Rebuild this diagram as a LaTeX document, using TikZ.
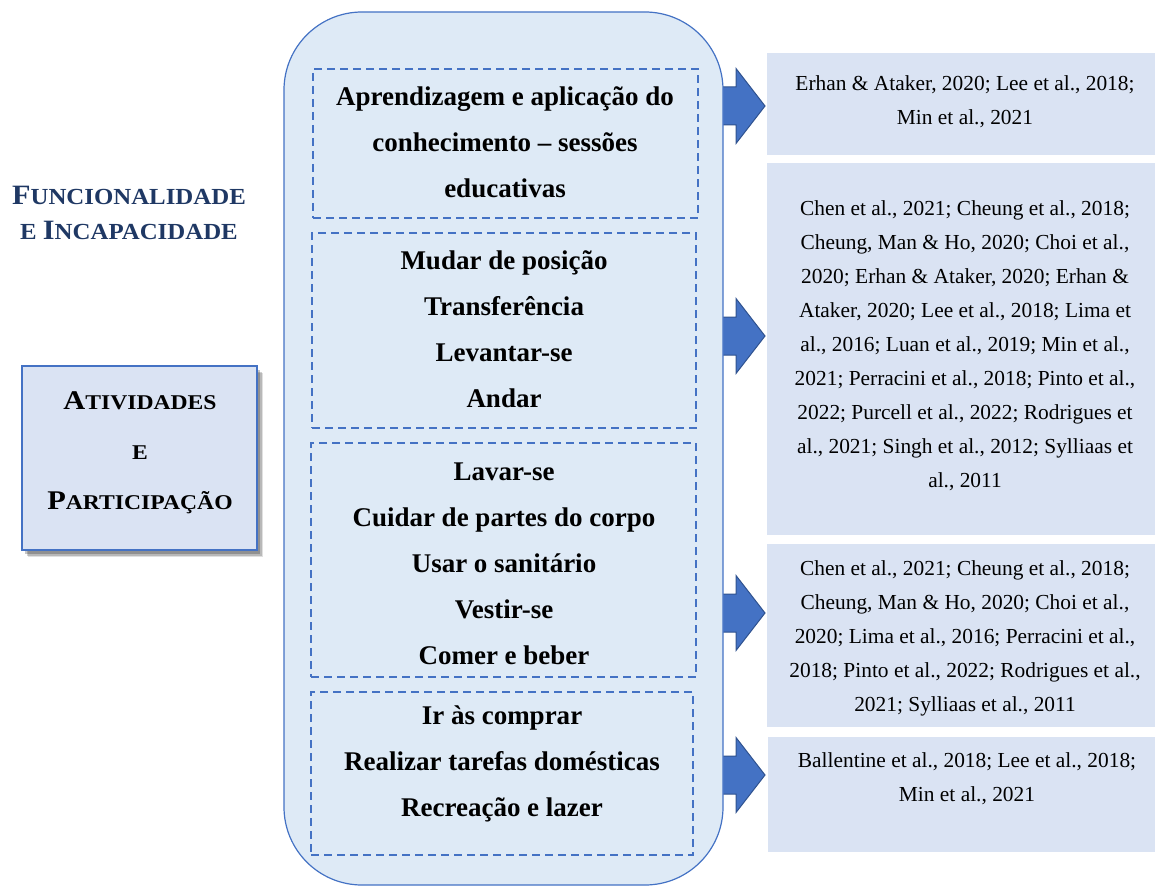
\documentclass[tikz,border=0pt]{standalone}
\usepackage{fontspec}
\setmainfont{Liberation Serif}
\usetikzlibrary{shadows}
\definecolor{panelfill}{HTML}{DEEAF6}
\definecolor{boxfill}{HTML}{DAE3F3}
\definecolor{accent}{HTML}{4472C4}
\definecolor{accentdark}{HTML}{2F528F}
\definecolor{navy}{HTML}{1F3864}
% fake small caps: large initial, smaller capitals
\newcommand\scT[2]{{\fontsize{28}{35}\selectfont #1}{\fontsize{23}{35}\selectfont #2}}
\newcommand\scL[2]{{\fontsize{27}{50}\selectfont #1}{\fontsize{21}{50}\selectfont #2}}
\begin{document}
\begin{tikzpicture}[x=1pt,y=-1pt,
  panel/.style={draw=accent, line width=1.2pt, fill=panelfill, rounded corners=78pt, inner sep=0pt},
  groupbox/.style={draw=accent, line width=1.6pt, dash pattern=on 8pt off 5pt, inner sep=0pt},
  citebox/.style={fill=boxfill, inner sep=0pt},
  sidebox/.style={fill=boxfill, draw=accent, line width=1.2pt, inner sep=0pt,
    drop shadow={shadow xshift=6pt, shadow yshift=-7pt, opacity=0.12, fill=black},
    drop shadow={shadow xshift=4.5pt, shadow yshift=-5.5pt, opacity=0.18, fill=black},
    drop shadow={shadow xshift=3pt, shadow yshift=-4pt, opacity=0.22, fill=black}},
  itemtext/.style={align=center, inner sep=0pt, font=\bfseries\fontsize{27}{46}\selectfont},
  citetext/.style={align=center, inner sep=0pt, font=\fontsize{21.4}{34}\selectfont},
  titletext/.style={align=center, inner sep=0pt, text=navy, font=\bfseries\fontsize{28}{35}\selectfont},
  sidetext/.style={align=center, inner sep=0pt, font=\bfseries\fontsize{27}{50}\selectfont},
  blockarrow/.style={fill=accent, draw=accentdark, line width=1pt, line join=miter},
]
\useasboundingbox (0,0) rectangle (1155,885);

% block arrows (tails hidden under the panel)
\foreach \y in {106,336,613,775}
  \draw[blockarrow] (712,\y-19) -- (736,\y-19) -- (736,\y-37.5) -- (765,\y)
    -- (736,\y+37.5) -- (736,\y+19) -- (712,\y+19) -- cycle;

% central panel
\node[panel, minimum width=439pt, minimum height=873pt] (panel) at (503.5,448.5) {};

% dashed groups
\node[groupbox, minimum width=385pt, minimum height=149pt] (g1) at (505.5,143.5) {};
\node[groupbox, minimum width=384pt, minimum height=195pt] (g2) at (504,330.5) {};
\node[groupbox, minimum width=385pt, minimum height=234pt] (g3) at (503.5,560) {};
\node[groupbox, minimum width=382pt, minimum height=163pt] (g4) at (502,773.5) {};

\node[itemtext] (t1) at (505,142.5) {Aprendizagem e aplicação do\\conhecimento – sessões\\educativas};
\node[itemtext] (t2) at (504,329) {Mudar de posição\\Transferência\\Levantar-se\\Andar};
\node[itemtext] (t3) at (504,563.5) {Lavar-se\\Cuidar de partes do corpo\\Usar o sanitário\\Vestir-se\\Comer e beber};
\node[itemtext] (t4) at (502,764) {Ir às comprar\\Realizar tarefas domésticas\\Recreação e lazer};

% reference boxes
\node[citebox, minimum width=388pt, minimum height=102pt] (c1) at (961,104) {};
\node[citebox, minimum width=388pt, minimum height=372pt] (c2) at (961,349) {};
\node[citebox, minimum width=388pt, minimum height=183pt] (c3) at (961,635.5) {};
\node[citebox, minimum width=387pt, minimum height=115pt] (c4) at (961.5,794.5) {};

\node[citetext] (ct1) at (965,101.5) {Erhan \& Ataker, 2020; Lee et al., 2018;\\Min et al., 2021};
\node[citetext] (ct2) at (965,346) {Chen et al., 2021; Cheung et al., 2018;\\Cheung, Man \& Ho, 2020; Choi et al.,\\2020; Erhan \& Ataker, 2020; Erhan \&\\Ataker, 2020; Lee et al., 2018; Lima et\\al., 2016; Luan et al., 2019; Min et al.,\\2021; Perracini et al., 2018; Pinto et al.,\\2022; Purcell et al., 2022; Rodrigues et\\al., 2021; Singh et al., 2012; Sylliaas et\\al., 2011};
\node[citetext] (ct3) at (965,638) {Chen et al., 2021; Cheung et al., 2018;\\Cheung, Man \& Ho, 2020; Choi et al.,\\2020; Lima et al., 2016; Perracini et al.,\\2018; Pinto et al., 2022; Rodrigues et al.,\\2021; Sylliaas et al., 2011};
\node[citetext] (ct4) at (967,778.5) {Ballentine et al., 2018; Lee et al., 2018;\\Min et al., 2021};

% left column
\node[titletext] (title) at (129,212.5) {\scalebox{1.08}[1]{\scT{F}{UNCIONALIDADE}}\\\scalebox{1.08}[1]{\scT{}{E }\scT{I}{NCAPACIDADE}}};
\node[sidebox, minimum width=235pt, minimum height=184pt] (side) at (139.5,458) {};
\node[sidetext] (sidet) at (140,453) {\scalebox{1.125}[1]{\scL{A}{TIVIDADES}}\\\scalebox{1.125}[1]{\scL{}{E}}\\\scalebox{1.125}[1]{\scL{P}{ARTICIPAÇÃO}}};
\end{tikzpicture}
\end{document}
